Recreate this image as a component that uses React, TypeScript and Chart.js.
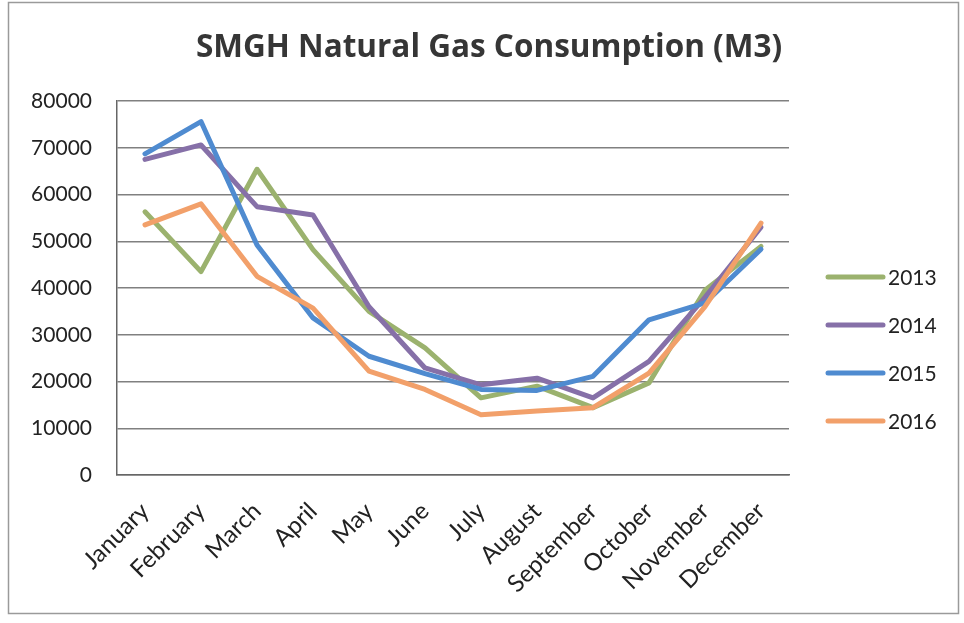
import React, { useEffect, useRef } from "react";
import { Chart, registerables } from "chart.js";

Chart.register(...registerables);

const months = [
  "January", "February", "March", "April", "May", "June",
  "July", "August", "September", "October", "November", "December",
];
const series2013 = [56300, 43500, 65400, 48200, 35000, 27200, 16500, 19000, 14400, 19700, 39500, 48900];
const series2014 = [67500, 70600, 57400, 55600, 36000, 22900, 19300, 20700, 16500, 24300, 38000, 53000];
const series2015 = [68700, 75600, 49200, 33600, 25400, 21700, 18300, 18100, 21100, 33200, 36800, 48300];
const series2016 = [53500, 58000, 42500, 35700, 22200, 18300, 12900, 13700, 14400, 21800, 36000, 53900];
const seriesLabels = ["2013", "2014", "2015", "2016"];
const seriesColors = ["#9bb26e", "#8670a8", "#4f8bd0", "#f2a06a"];
const yTicksMax = 80000;
const yTickStep = 10000;
const titleText = "SMGH Natural Gas Consumption (M3)";

const FONT = "Lato, 'Open Sans', sans-serif";
const TITLE_FONT = "'Open Sans', Lato, sans-serif";

export default function App() {
  const ref = useRef<HTMLCanvasElement>(null);

  useEffect(() => {
    if (!ref.current) return;
    const allSeries = [series2013, series2014, series2015, series2016];

    const framePlugin = {
      id: "frame",
      beforeDraw(chart: any) {
        const ctx = chart.ctx;
        ctx.save();
        ctx.fillStyle = "#ffffff";
        ctx.fillRect(0, 0, chart.width, chart.height);
        ctx.strokeStyle = "#9a9a9a";
        ctx.lineWidth = 1.5;
        ctx.strokeRect(8.5, 2.5, 950, 611);
        ctx.fillStyle = "#363636";
        ctx.font = `bold 31.5px ${TITLE_FONT}`;
        ctx.textAlign = "center";
        ctx.textBaseline = "middle";
        ctx.fillText(titleText, 489, 48);
        ctx.restore();
      },
    };

    const sideLegend = {
      id: "sideLegend",
      afterDraw(chart: any) {
        const ctx = chart.ctx;
        const area = chart.chartArea;
        const x0 = area.right + 39;
        const x1 = area.right + 94;
        const tx = area.right + 99;
        const yStart = 277;
        const gap = 48;
        ctx.save();
        chart.data.datasets.forEach((ds: any, i: number) => {
          const y = yStart + i * gap;
          ctx.strokeStyle = ds.borderColor;
          ctx.lineWidth = 5;
          ctx.lineCap = "round";
          ctx.beginPath();
          ctx.moveTo(x0, y);
          ctx.lineTo(x1, y);
          ctx.stroke();
          ctx.fillStyle = "#222";
          ctx.font = `21px ${FONT}`;
          ctx.textAlign = "left";
          ctx.textBaseline = "middle";
          ctx.fillText(ds.label, tx, y + 1);
        });
        ctx.restore();
      },
    };

    const chart = new Chart(ref.current, {
      type: "line",
      data: {
        labels: months,
        datasets: seriesLabels.map((label, i) => ({
          label,
          data: allSeries[i],
          borderColor: seriesColors[i],
          backgroundColor: seriesColors[i],
          borderWidth: 5,
          pointRadius: 0,
          pointHoverRadius: 0,
          tension: 0,
          borderCapStyle: "round",
          borderJoinStyle: "round",
          fill: false,
          order: seriesLabels.length - i,
        })),
      },
      options: {
        responsive: false,
        animation: false,
        events: [],
        layout: { padding: { left: 0, right: 175, top: 101, bottom: 0 } },
        plugins: {
          legend: { display: false },
          tooltip: { enabled: false },
          title: { display: false },
        },
        scales: {
          x: {
            offset: true,
            grid: { display: false, drawTicks: false },
            border: { display: true, color: "#666", width: 1.5 },
            ticks: {
              autoSkip: false,
              minRotation: 45,
              maxRotation: 45,
              padding: 22,
              color: "#222",
              font: { family: FONT, size: 24 },
            },
            afterFit(scale: any) {
              scale.height = 148;
            },
          },
          y: {
            min: 0,
            max: yTicksMax,
            grid: { color: "#808080", lineWidth: 1.5, drawTicks: false },
            border: { display: true, color: "#666", width: 1.5 },
            ticks: {
              stepSize: yTickStep,
              padding: 25,
              color: "#222",
              font: { family: FONT, size: 21 },
              callback: (v: any) => String(v),
            },
            afterFit(scale: any) {
              scale.width = 117;
            },
          },
        },
      },
      plugins: [framePlugin, sideLegend],
    } as any);

    return () => chart.destroy();
  }, []);

  return (
    <div style={{ position: "absolute", left: 0, top: 0, width: 964, height: 623 }}>
      <canvas ref={ref} width={964} height={623} style={{ display: "block" }} />
    </div>
  );
}
